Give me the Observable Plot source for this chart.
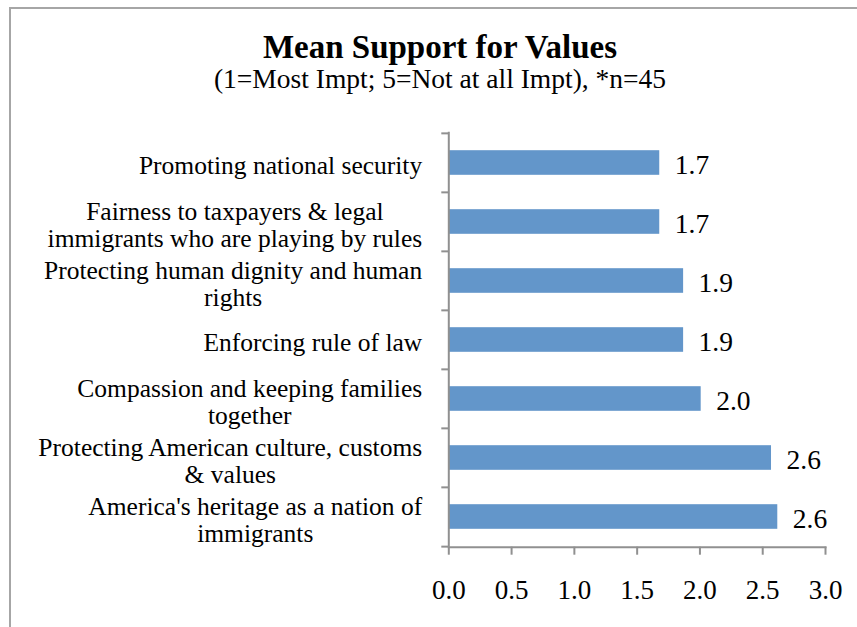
<!DOCTYPE html>
<html><head><meta charset="utf-8">
<script src="https://cdn.jsdelivr.net/npm/d3@7"></script>
<script src="https://cdn.jsdelivr.net/npm/@observablehq/plot@0.6"></script>
<style>
html,body{margin:0;padding:0;background:#fff;overflow:hidden;width:857px;height:627px}
#wrap{position:relative;width:857px;height:627px;font-family:"Liberation Serif",serif;color:#000}
#box{position:absolute;left:9px;top:7px;width:900px;height:700px;border-left:2px solid #a6a6a6;border-top:2px solid #a6a6a6;pointer-events:none}
.t{position:absolute;left:9px;width:862px;text-align:center;white-space:nowrap}
#title{top:31.4px;font-size:33px;line-height:33px;font-weight:bold}
#sub{top:65.2px;font-size:27.5px;line-height:27.5px}
#chart{position:absolute;left:0;top:100px}
</style></head>
<body>
<div id="wrap">
  <div class="t" id="title">Mean Support for Values</div>
  <div class="t" id="sub">(1=Most Impt; 5=Not at all Impt), *n=45</div>
  <div id="chart"></div>
  <div id="box"></div>
</div>
<script>
const categories = [
  "Promoting national security",
  "Fairness to taxpayers & legal immigrants who are playing by rules",
  "Protecting human dignity and human rights",
  "Enforcing rule of law",
  "Compassion and keeping families together",
  "Protecting American culture, customs & values",
  "America's heritage as a nation of immigrants"
];
const tickLabels = [
  "Promoting national security",
  "Fairness to taxpayers & legal\nimmigrants who are playing by rules",
  "Protecting human dignity and human\nrights",
  "Enforcing rule of law",
  "Compassion and keeping families\ntogether",
  "Protecting American culture, customs\n& values",
  "America's heritage as a nation of\nimmigrants"
];
const values = [1.68, 1.68, 1.87, 1.87, 2.01, 2.57, 2.62];
const xTicks = [0, 0.5, 1.0, 1.5, 2.0, 2.5, 3.0];

const data = categories.map((c, i) => ({category: c, label: tickLabels[i], value: values[i]}));

const W = 857, H = 527, mT = 31.7, mB = 80.3, mL = 448.3, mR = 32;
const step = (H - mT - mB) / categories.length;
const axisColor = "#909090";
const barColor = "#6396CA";

const plot = Plot.plot({
  width: W, height: H,
  marginTop: mT, marginBottom: mB, marginLeft: mL, marginRight: mR,
  style: {fontFamily: "Liberation Serif", fontSize: "25.5px", background: "transparent", overflow: "visible", color: "#000"},
  x: {domain: [0, 3]},
  y: {domain: categories, padding: 0},
  marks: [
    Plot.barX(data, {x: "value", y: "category", fill: barColor, insetTop: 17.2, insetBottom: 17.2}),
    Plot.ruleX([0], {stroke: axisColor, strokeWidth: 2}),
    Plot.frame({anchor: "bottom", stroke: axisColor, strokeWidth: 2}),
    Plot.axisX({ticks: xTicks, tickFormat: d3.format(".1f"), tickSize: 8, tickPadding: 24.5, stroke: axisColor, strokeWidth: 2, fontSize: 27, fill: "#000", label: null}),
    Plot.axisY({tickSize: 0, tickPadding: 26.6, tickFormat: c => tickLabels[categories.indexOf(c)], lineHeight: 1.09, fontSize: 25.5, label: null, dy: 2.5, fill: "#000"}),
    Plot.axisY({tickSize: 7, tickFormat: () => "", dy: -step / 2, stroke: axisColor, strokeWidth: 2, label: null}),
    Plot.axisY({ticks: [categories[categories.length - 1]], tickSize: 7, tickFormat: () => "", dy: step / 2, stroke: axisColor, strokeWidth: 2, label: null}),
    Plot.text(data, {x: "value", y: "category", text: d => d.value.toFixed(1), textAnchor: "start", dx: 15, dy: 2.5, fontSize: 27.5, fill: "#000"})
  ]
});
document.getElementById("chart").append(plot);
plot.querySelectorAll('g[aria-label="y-axis tick label"] text').forEach(t => {
  const spans = t.querySelectorAll("tspan");
  if (spans.length < 2) return;
  let w = 0;
  spans.forEach(s => { w = Math.max(w, s.getComputedTextLength()); });
  t.setAttribute("text-anchor", "middle");
  spans.forEach(s => s.setAttribute("x", -w / 2));
});
</script>
</body></html>
